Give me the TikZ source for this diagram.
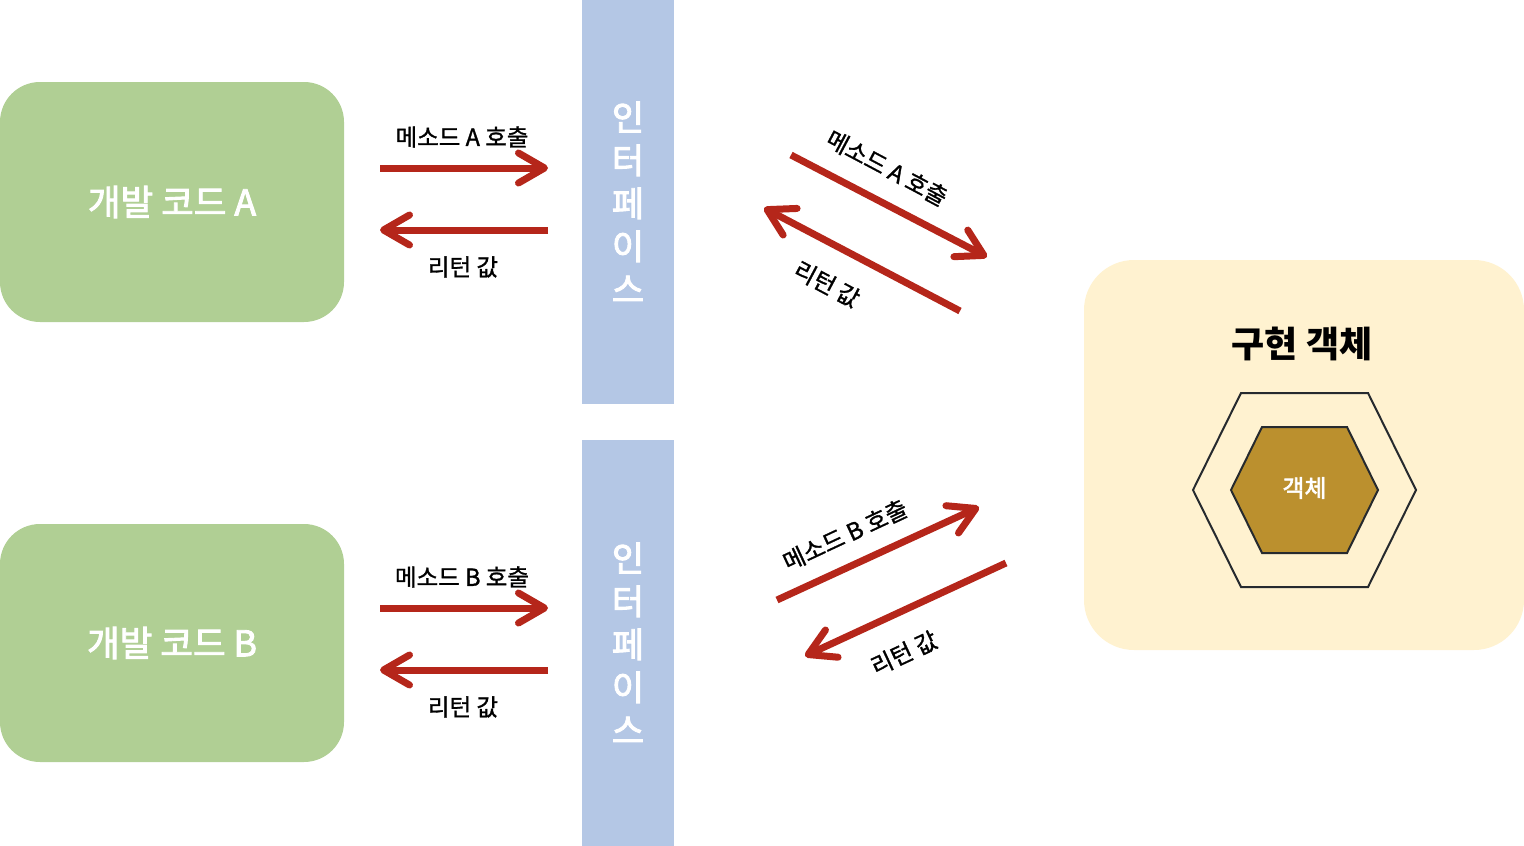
\documentclass[tikz,border=0pt]{standalone}
\usepackage{fontspec}
\setmainfont{Noto Sans CJK KR}
\newfontfamily\medfont{Noto Sans CJK KR}[FakeBold=2.6]
\newfontfamily\lblfont{Noto Sans CJK KR}[FakeBold=1.2]
\usetikzlibrary{arrows.meta}
\definecolor{codegreen}{HTML}{B0CF94}
\definecolor{ifblue}{HTML}{B4C7E5}
\definecolor{implyellow}{HTML}{FFF2D0}
\definecolor{objgold}{HTML}{BB902E}
\definecolor{callred}{HTML}{B5261A}
\definecolor{hexline}{HTML}{262A2E}
\begin{document}
\begin{tikzpicture}[x=1pt,y=-1pt,
    codebox/.style={fill=codegreen,rounded corners=40pt,minimum width=344pt,text=white,
        font=\medfont\fontsize{35.5}{35.5}\selectfont},
    ifbar/.style={fill=ifblue,minimum width=92pt,text=white,align=center,
        font=\medfont\fontsize{35}{43}\selectfont},
    callarrow/.style={callred,line width=7pt,-{Straight Barb[round,length=26pt,width=30pt]}},
    lbl/.style={font=\lblfont\fontsize{23.5}{23.5}\selectfont,inner sep=0pt}]
    \useasboundingbox (0,0) rectangle (1524,846);
    % 개발 코드
    \node[codebox,minimum height=240pt] (codeA) at (172,202){개발 코드 A};
    \node[codebox,minimum height=238pt] (codeB) at (172,643){개발 코드 B};
    % 인터페이스
    \node[ifbar,minimum height=404pt] (ifA) at (628,202){인\\터\\페\\이\\스};
    \node[ifbar,minimum height=406pt] (ifB) at (628,643){인\\터\\페\\이\\스};
    % 구현 객체
    \node[fill=implyellow,rounded corners=50pt,minimum width=440pt,minimum height=390pt] (impl) at (1304,455){};
    \node[font=\fontsize{36}{36}\selectfont\bfseries] (impltitle) at (1302,344){구현 객체};
    \draw[hexline,line width=2pt] (1193,490)--(1241,393)--(1368,393)--(1416,490)--(1368,587)--(1241,587)--cycle;
    \draw[hexline,fill=objgold,line width=2pt] (1231,490)--(1262,427)--(1347,427)--(1378,490)--(1347,553)--(1262,553)--cycle;
    \node[text=white,font=\medfont\fontsize{24}{24}\selectfont] (obj) at (1304.5,488){객체};

    \coordinate (acallS) at (380,168);  \coordinate (acallE) at (548,168);
    \coordinate (aretS) at (548,230);   \coordinate (aretE) at (380,230);
    \coordinate (bcallS) at (380,608);  \coordinate (bcallE) at (548,608);
    \coordinate (bretS) at (548,670);   \coordinate (bretE) at (380,670);
    \draw[callarrow] (acallS)--(acallE);
    \draw[callarrow] (aretS)--(aretE);
    \draw[callarrow] (bcallS)--(bcallE);
    \draw[callarrow] (bretS)--(bretE);
    \node[lbl] (acalltxt) at (462,137){메소드 A 호출};
    \node[lbl] (arettxt) at (463,267){리턴 값};
    \node[lbl] (bcalltxt) at (462,577){메소드 B 호출};
    \node[lbl] (brettxt) at (463,707){리턴 값};

    \coordinate (dacallS) at (791,155); \coordinate (dacallE) at (987,257);
    \coordinate (daretS) at (960,311);  \coordinate (daretE) at (764,208);
    \coordinate (dbcallS) at (777,600); \coordinate (dbcallE) at (979,507);
    \coordinate (dbretS) at (1006,563); \coordinate (dbretE) at (805,656);
    \draw[callarrow] (dacallS)--(dacallE);
    \draw[callarrow] (daretS)--(daretE);
    \draw[callarrow] (dbcallS)--(dbcallE);
    \draw[callarrow] (dbretS)--(dbretE);
    \node[lbl,rotate=-28] (dacalltxt) at (887,168){메소드 A 호출};
    \node[lbl,rotate=-28] (darettxt) at (827,284){리턴 값};
    \node[lbl,rotate=25] (dbcalltxt) at (845,535){메소드 B 호출};
    \node[lbl,rotate=25] (dbrettxt) at (904,653){리턴 값};
\end{tikzpicture}
\end{document}
